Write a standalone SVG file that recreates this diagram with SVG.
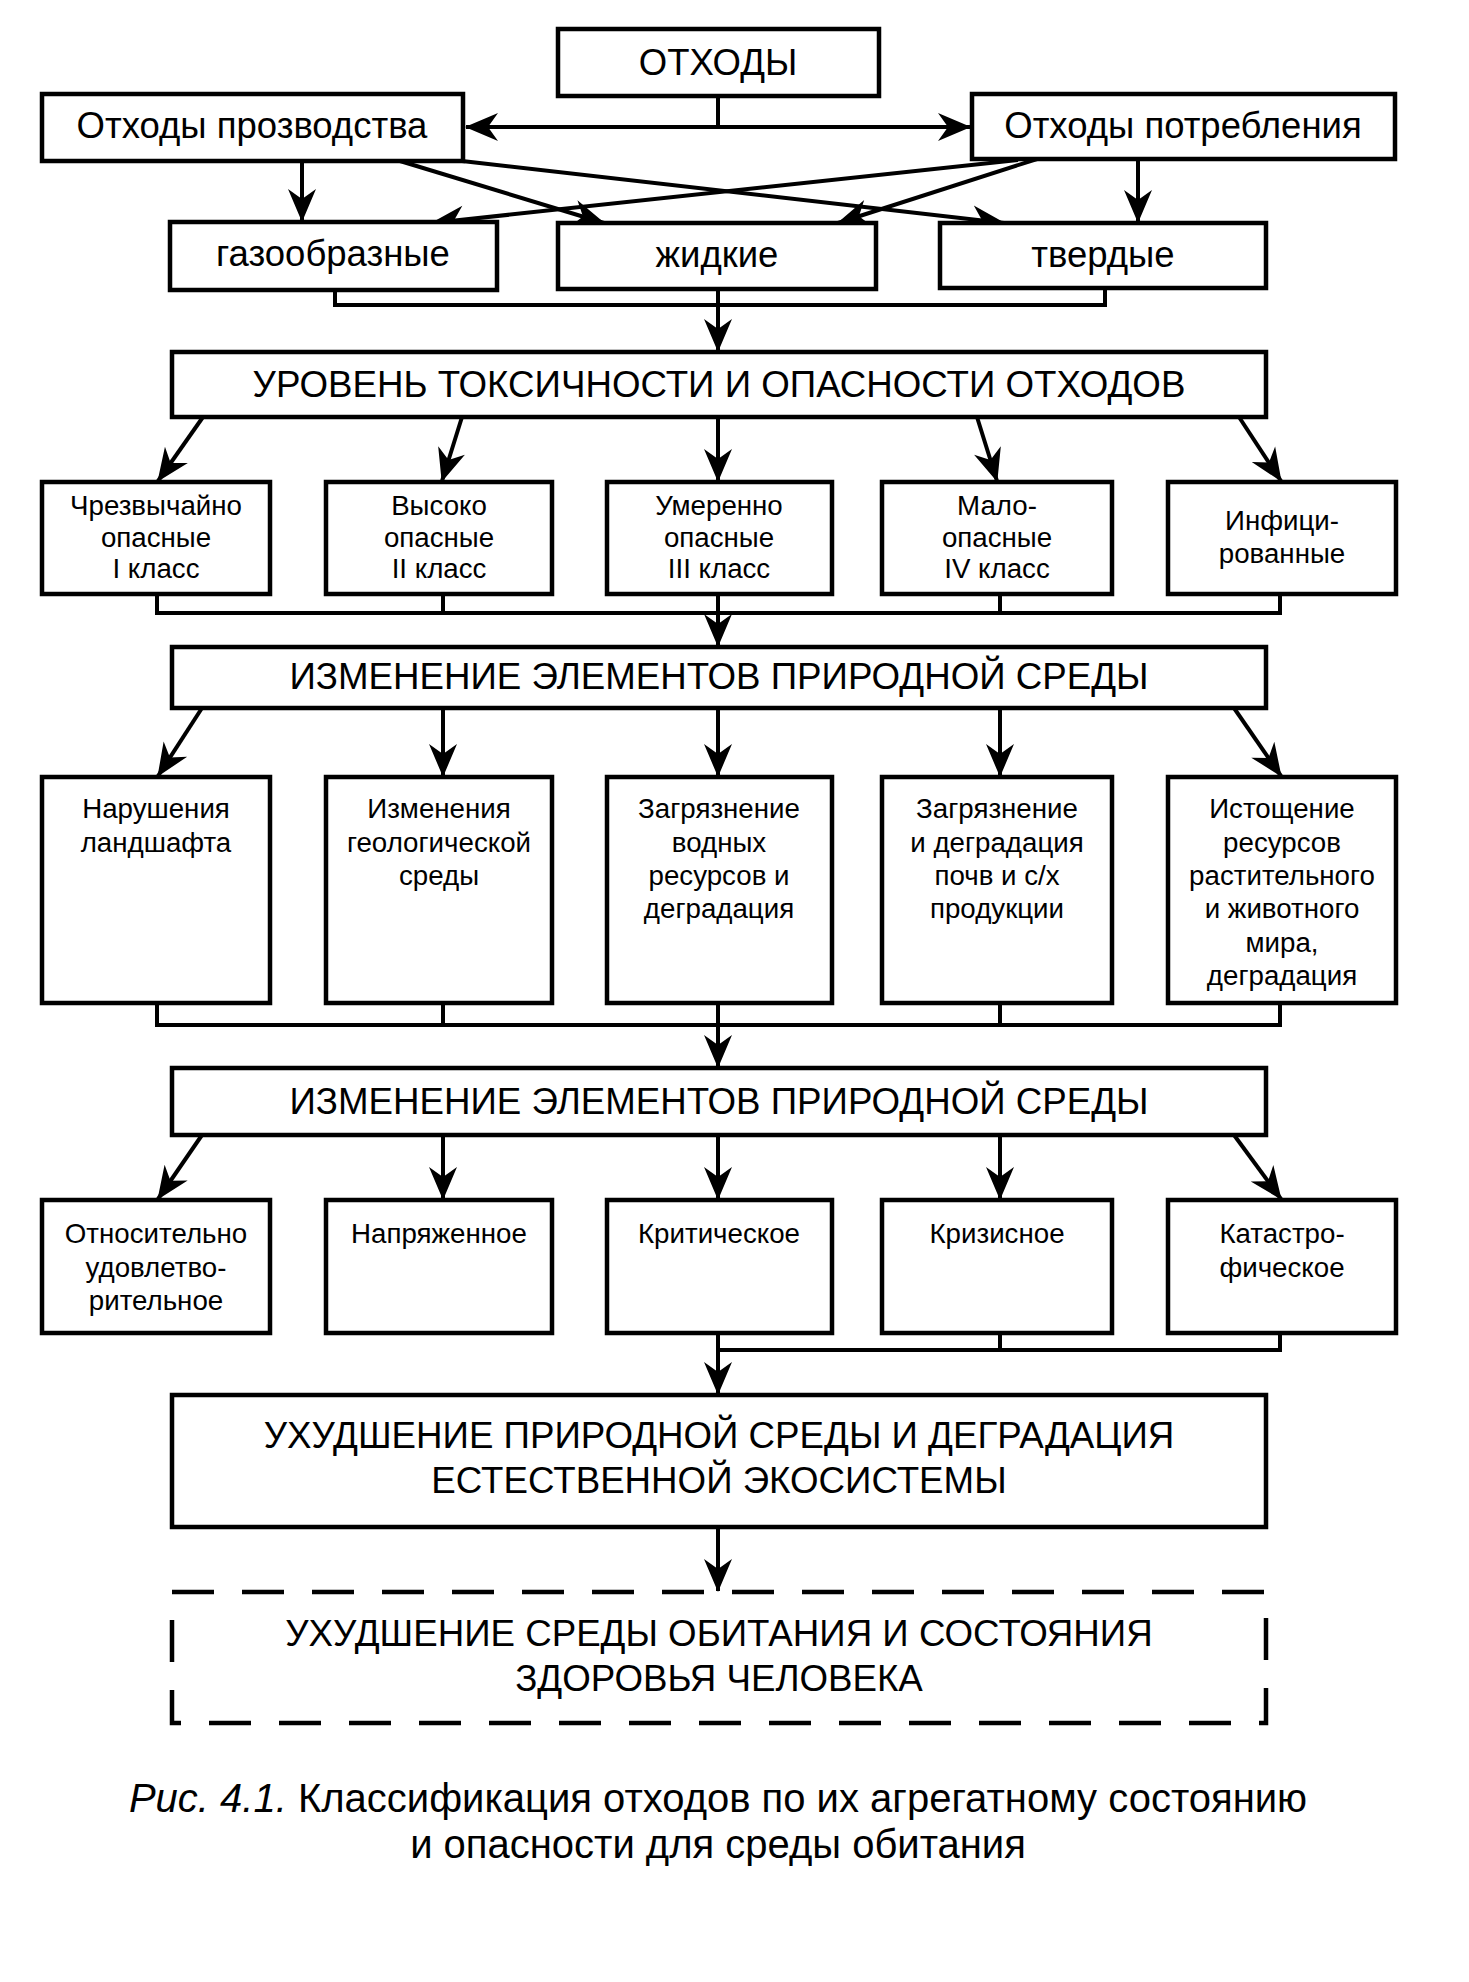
<svg xmlns="http://www.w3.org/2000/svg" width="1469" height="1982" viewBox="0 0 1469 1982">
<style>
.box{fill:#fff;stroke:#000;stroke-width:4.5}
.dash{fill:none;stroke:#000;stroke-width:4.5;stroke-dasharray:42 28}
.ln{fill:none;stroke:#000;stroke-width:4}
.t{font-family:"Liberation Sans",Arial,sans-serif;fill:#000;text-anchor:middle}
.t1{font-size:36.5px}
.th{font-size:36.7px}
.ts{font-size:27.7px}
.cap{font-size:40px}
</style>
<defs>
<marker id="ah" markerUnits="userSpaceOnUse" markerWidth="36" markerHeight="32" viewBox="-34 -16 36 32" refX="0" refY="0" orient="auto">
<path d="M1,0 L-32,-14 L-22,0 L-32,14 Z" fill="#000"/>
</marker>
</defs>
<rect width="1469" height="1982" fill="#fff"/>

<g id="connectors">
<path class="ln" d="M718,96 V127"/>
<line class="ln" x1="718" y1="127" x2="466" y2="127" marker-end="url(#ah)"/>
<line class="ln" x1="718" y1="127" x2="970" y2="127" marker-end="url(#ah)"/>
<line class="ln" x1="302" y1="161" x2="302" y2="221" marker-end="url(#ah)"/>
<line class="ln" x1="1138" y1="159" x2="1138" y2="222" marker-end="url(#ah)"/>
<line class="ln" x1="400" y1="161" x2="604" y2="223" marker-end="url(#ah)"/>
<line class="ln" x1="462" y1="161" x2="1004" y2="223" marker-end="url(#ah)"/>
<line class="ln" x1="1037" y1="159" x2="838" y2="223" marker-end="url(#ah)"/>
<line class="ln" x1="1018" y1="160" x2="432" y2="223" marker-end="url(#ah)"/>
<path class="ln" d="M335,290 V305 H1105 V288"/>
<line class="ln" x1="718" y1="289" x2="718" y2="351" marker-end="url(#ah)"/>

<line class="ln" x1="203" y1="417" x2="158" y2="481" marker-end="url(#ah)"/>
<line class="ln" x1="462" y1="417" x2="442" y2="481" marker-end="url(#ah)"/>
<line class="ln" x1="718" y1="417" x2="718" y2="481" marker-end="url(#ah)"/>
<line class="ln" x1="977" y1="417" x2="997" y2="481" marker-end="url(#ah)"/>
<line class="ln" x1="1239" y1="417" x2="1281" y2="481" marker-end="url(#ah)"/>
<path class="ln" d="M157,594 V613 H1280 V594 M443,594 V613 M1000,594 V613"/>
<line class="ln" x1="718" y1="594" x2="718" y2="646" marker-end="url(#ah)"/>

<line class="ln" x1="202" y1="708" x2="158" y2="776" marker-end="url(#ah)"/>
<line class="ln" x1="443" y1="708" x2="443" y2="776" marker-end="url(#ah)"/>
<line class="ln" x1="718" y1="708" x2="718" y2="776" marker-end="url(#ah)"/>
<line class="ln" x1="1000" y1="708" x2="1000" y2="776" marker-end="url(#ah)"/>
<line class="ln" x1="1234" y1="708" x2="1281" y2="776" marker-end="url(#ah)"/>
<path class="ln" d="M157,1003 V1025 H1280 V1003 M443,1003 V1025 M1000,1003 V1025"/>
<line class="ln" x1="718" y1="1003" x2="718" y2="1067" marker-end="url(#ah)"/>

<line class="ln" x1="202" y1="1135" x2="158" y2="1199" marker-end="url(#ah)"/>
<line class="ln" x1="443" y1="1135" x2="443" y2="1199" marker-end="url(#ah)"/>
<line class="ln" x1="718" y1="1135" x2="718" y2="1199" marker-end="url(#ah)"/>
<line class="ln" x1="1000" y1="1135" x2="1000" y2="1199" marker-end="url(#ah)"/>
<line class="ln" x1="1234" y1="1135" x2="1281" y2="1199" marker-end="url(#ah)"/>
<path class="ln" d="M718,1350 H1280 V1333 M1000,1333 V1350"/>
<line class="ln" x1="718" y1="1333" x2="718" y2="1394" marker-end="url(#ah)"/>

<line class="ln" x1="718" y1="1527" x2="718" y2="1591" marker-end="url(#ah)"/>
</g>

<g id="n-othody"><rect class="box" x="558" y="29" width="321" height="67"/><text class="t t1" x="718" y="75">ОТХОДЫ</text></g>
<g id="n-proizv"><rect class="box" x="42" y="94" width="421" height="67"/><text class="t t1" x="252" y="138">Отходы прозводства</text></g>
<g id="n-potreb"><rect class="box" x="972" y="94" width="423" height="65"/><text class="t t1" x="1183" y="138">Отходы потребления</text></g>

<g id="n-gaz"><rect class="box" x="170" y="222" width="327" height="68"/><text class="t t1" x="333" y="266">газообразные</text></g>
<g id="n-zhid"><rect class="box" x="558" y="223" width="318" height="66"/><text class="t t1" x="717" y="267">жидкие</text></g>
<g id="n-tverd"><rect class="box" x="940" y="223" width="326" height="65"/><text class="t t1" x="1103" y="267">твердые</text></g>

<g id="n-uroven"><rect class="box" x="172" y="352" width="1094" height="65"/><text class="t th" x="719" y="397">УРОВЕНЬ ТОКСИЧНОСТИ И ОПАСНОСТИ ОТХОДОВ</text></g>

<g id="n-k1"><rect class="box" x="42" y="482" width="228" height="112"/><text class="t ts"><tspan x="156" y="515">Чрезвычайно</tspan><tspan x="156" y="547">опасные</tspan><tspan x="156" y="578">I класс</tspan></text></g>
<g id="n-k2"><rect class="box" x="326" y="482" width="226" height="112"/><text class="t ts"><tspan x="439" y="515">Высоко</tspan><tspan x="439" y="547">опасные</tspan><tspan x="439" y="578">II класс</tspan></text></g>
<g id="n-k3"><rect class="box" x="607" y="482" width="225" height="112"/><text class="t ts"><tspan x="719" y="515">Умеренно</tspan><tspan x="719" y="547">опасные</tspan><tspan x="719" y="578">III класс</tspan></text></g>
<g id="n-k4"><rect class="box" x="882" y="482" width="230" height="112"/><text class="t ts"><tspan x="997" y="515">Мало-</tspan><tspan x="997" y="547">опасные</tspan><tspan x="997" y="578">IV класс</tspan></text></g>
<g id="n-k5"><rect class="box" x="1168" y="482" width="228" height="112"/><text class="t ts"><tspan x="1282" y="530">Инфици-</tspan><tspan x="1282" y="563">рованные</tspan></text></g>

<g id="n-izm1"><rect class="box" x="172" y="647" width="1094" height="61"/><text class="t th" x="719" y="689">ИЗМЕНЕНИЕ ЭЛЕМЕНТОВ ПРИРОДНОЙ СРЕДЫ</text></g>

<g id="n-e1"><rect class="box" x="42" y="777" width="228" height="226"/><text class="t ts"><tspan x="156" y="818">Нарушения</tspan><tspan x="156" y="852">ландшафта</tspan></text></g>
<g id="n-e2"><rect class="box" x="326" y="777" width="226" height="226"/><text class="t ts"><tspan x="439" y="818">Изменения</tspan><tspan x="439" y="852">геологической</tspan><tspan x="439" y="885">среды</tspan></text></g>
<g id="n-e3"><rect class="box" x="607" y="777" width="225" height="226"/><text class="t ts"><tspan x="719" y="818">Загрязнение</tspan><tspan x="719" y="852">водных</tspan><tspan x="719" y="885">ресурсов и</tspan><tspan x="719" y="918">деградация</tspan></text></g>
<g id="n-e4"><rect class="box" x="882" y="777" width="230" height="226"/><text class="t ts"><tspan x="997" y="818">Загрязнение</tspan><tspan x="997" y="852">и деградация</tspan><tspan x="997" y="885">почв и с/х</tspan><tspan x="997" y="918">продукции</tspan></text></g>
<g id="n-e5"><rect class="box" x="1168" y="777" width="228" height="226"/><text class="t ts"><tspan x="1282" y="818">Истощение</tspan><tspan x="1282" y="852">ресурсов</tspan><tspan x="1282" y="885">растительного</tspan><tspan x="1282" y="918">и животного</tspan><tspan x="1282" y="952">мира,</tspan><tspan x="1282" y="985">деградация</tspan></text></g>

<g id="n-izm2"><rect class="box" x="172" y="1068" width="1094" height="67"/><text class="t th" x="719" y="1114">ИЗМЕНЕНИЕ ЭЛЕМЕНТОВ ПРИРОДНОЙ СРЕДЫ</text></g>

<g id="n-s1"><rect class="box" x="42" y="1200" width="228" height="133"/><text class="t ts"><tspan x="156" y="1243">Относительно</tspan><tspan x="156" y="1277">удовлетво-</tspan><tspan x="156" y="1310">рительное</tspan></text></g>
<g id="n-s2"><rect class="box" x="326" y="1200" width="226" height="133"/><text class="t ts"><tspan x="439" y="1243">Напряженное</tspan></text></g>
<g id="n-s3"><rect class="box" x="607" y="1200" width="225" height="133"/><text class="t ts"><tspan x="719" y="1243">Критическое</tspan></text></g>
<g id="n-s4"><rect class="box" x="882" y="1200" width="230" height="133"/><text class="t ts"><tspan x="997" y="1243">Кризисное</tspan></text></g>
<g id="n-s5"><rect class="box" x="1168" y="1200" width="228" height="133"/><text class="t ts"><tspan x="1282" y="1243">Катастро-</tspan><tspan x="1282" y="1277">фическое</tspan></text></g>

<g id="n-uhud"><rect class="box" x="172" y="1395" width="1094" height="132"/><text class="t th"><tspan x="719" y="1448">УХУДШЕНИЕ ПРИРОДНОЙ СРЕДЫ И ДЕГРАДАЦИЯ</tspan><tspan x="719" y="1493">ЕСТЕСТВЕННОЙ ЭКОСИСТЕМЫ</tspan></text></g>

<g id="n-human"><rect class="dash" x="172" y="1592" width="1094" height="131"/><text class="t th"><tspan x="719" y="1646">УХУДШЕНИЕ СРЕДЫ ОБИТАНИЯ И СОСТОЯНИЯ</tspan><tspan x="719" y="1691">ЗДОРОВЬЯ ЧЕЛОВЕКА</tspan></text></g>

<g id="caption"><text class="t cap"><tspan x="718" y="1812"><tspan font-style="italic">Рис. 4.1.</tspan> Классификация отходов по их агрегатному состоянию</tspan><tspan x="718" y="1858">и опасности для среды обитания</tspan></text></g>
</svg>
